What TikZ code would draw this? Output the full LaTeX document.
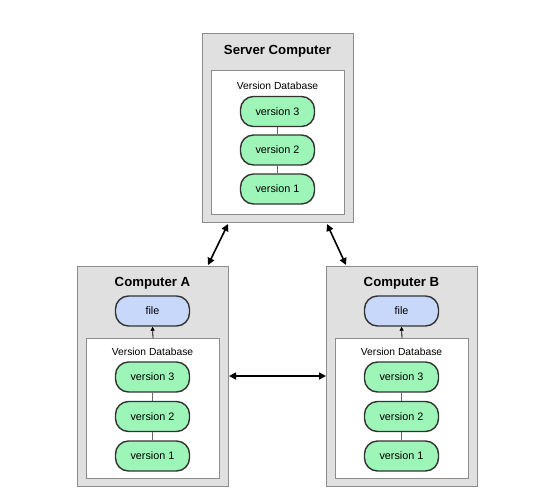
\documentclass[tikz,border=0pt]{standalone}
\usepackage{fontspec}
\setmainfont{Liberation Sans}
\usetikzlibrary{arrows.meta}
\definecolor{boxgray}{HTML}{E0E0E0}
\definecolor{boxedge}{HTML}{8C8C8C}
\definecolor{pillgreen}{HTML}{9EF5B8}
\definecolor{pillblue}{HTML}{C8D8FA}
\definecolor{pilledge}{HTML}{333333}
\definecolor{linkgray}{HTML}{666666}
\tikzset{
  outerbox/.style={draw=boxedge, fill=boxgray, line width=1pt, minimum width=151pt, inner sep=0pt, anchor=north west},
  innerbox/.style={draw=boxedge, fill=white, line width=1pt, inner sep=0pt, anchor=north west},
  pill/.style={draw=pilledge, line width=1.4pt, rounded corners=13pt, minimum width=74pt, minimum height=30pt, inner sep=0pt, font=\fontsize{10.8}{12}\selectfont},
  ver/.style={pill, fill=pillgreen},
  filepill/.style={pill, fill=pillblue},
  title/.style={font=\fontsize{13.2}{15}\selectfont\bfseries},
  dblabel/.style={font=\fontsize{10.3}{12}\selectfont},
  link/.style={draw=linkgray, line width=0.8pt},
  bigarrow/.style={line width=1.6pt, {Triangle[length=7pt,width=7pt]}-{Triangle[length=7pt,width=7pt]}},
  smallarrow/.style={line width=0.8pt, -{Triangle[length=4pt,width=4pt]}}
}
\begin{document}
\begin{tikzpicture}[x=1pt,y=-1pt]
\useasboundingbox (0,0) rectangle (554,496);
% Server
\node[outerbox, minimum height=189pt] (srv) at (202,33) {};
\node[title] (srvt) at (277.5,51) {Server Computer};
\node[innerbox, minimum width=133pt, minimum height=144pt] (srvdb) at (211,70) {};
\node[dblabel] (srvdbl) at (277.5,86) {Version Database};
\node[ver] (s3) at (277.5,111.5) {version 3};
\node[ver] (s2) at (277.5,150) {version 2};
\node[ver] (s1) at (277.5,189) {version 1};
\draw[link] (s3) -- (s2);
\draw[link] (s2) -- (s1);
% Computer A
\node[outerbox, minimum height=220pt] (ca) at (77,266) {};
\node[title] (cat) at (152.5,283) {Computer A};
\node[filepill] (af) at (152.5,311) {file};
\node[innerbox, minimum width=133pt, minimum height=140pt] (adb) at (86,338) {};
\node[dblabel] (adbl) at (152.5,352) {Version Database};
\node[ver] (a3) at (152.5,377) {version 3};
\node[ver] (a2) at (152.5,416.5) {version 2};
\node[ver] (a1) at (152.5,456) {version 1};
\draw[link] (a3) -- (a2);
\draw[link] (a2) -- (a1);
\draw[smallarrow] (adb.north) -- (af.south);
% Computer B
\node[outerbox, minimum height=220pt] (cb) at (326,266) {};
\node[title] (cbt) at (401.5,283) {Computer B};
\node[filepill] (bf) at (401.5,311) {file};
\node[innerbox, minimum width=133pt, minimum height=140pt] (bdb) at (335,338) {};
\node[dblabel] (bdbl) at (401.5,352) {Version Database};
\node[ver] (b3) at (401.5,377) {version 3};
\node[ver] (b2) at (401.5,416.5) {version 2};
\node[ver] (b1) at (401.5,456) {version 1};
\draw[link] (b3) -- (b2);
\draw[link] (b2) -- (b1);
\draw[smallarrow] (bdb.north) -- (bf.south);
% Arrows
\coordinate (sa1) at (228,224);
\coordinate (sa2) at (208,265);
\coordinate (sb1) at (327,224);
\coordinate (sb2) at (346,265);
\draw[bigarrow] (sa1) -- (sa2);
\draw[bigarrow] (sb1) -- (sb2);
\draw[bigarrow] (ca.east |- 0,376) -- (cb.west |- 0,376);
\end{tikzpicture}
\end{document}
